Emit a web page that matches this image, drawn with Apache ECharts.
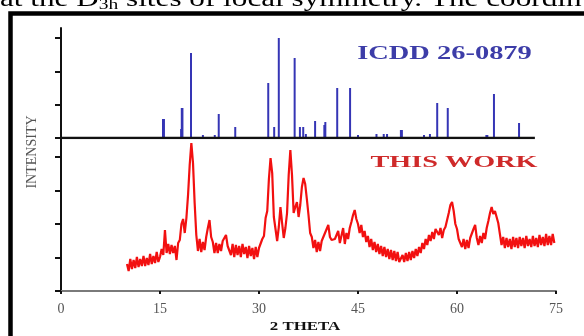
<!DOCTYPE html>
<html>
<head>
<meta charset="utf-8">
<script src="https://cdn.jsdelivr.net/npm/echarts@6/dist/echarts.min.js"></script>
<style>
  html, body { margin: 0; padding: 0; background: #ffffff; }
  #chart { width: 584px; height: 336px; }
</style>
</head>
<body>
<div id="chart"></div>
<script>
// X-ray diffraction: reference stick pattern (ICDD 26-0879) above, measured scan below.

// x axis (2 theta, degrees)
const thetaTicks = [0, 15, 30, 45, 60, 75];

// ICDD 26-0879 reference lines: position (2 theta) and relative intensity
const refTheta = [15.45, 15.6, 18.2, 18.3, 18.4, 19.7, 21.5, 23.3, 23.9, 26.4,
  31.4, 32.3, 33.0, 35.4, 36.2, 36.7, 37.1, 38.5, 39.9, 40.05,
  41.85, 43.8, 45.0, 47.8, 48.9, 49.4, 51.5, 51.65, 55.0, 55.9,
  57.0, 58.6, 64.45, 64.6, 65.6, 69.4];
const refIntensity = [19, 19, 9, 30, 30, 85, 3, 3, 24, 11,
  55, 11, 100, 80, 11, 11, 4, 17, 13, 16,
  50, 50, 3, 4, 4, 4, 8, 8, 3, 4,
  35, 30, 3, 3, 44, 15];
const refBaseline = [0, 71.8];

// measured scan ("this work"): 10.00 to 74.75 deg, 0.25 deg step
const scanStart = 10.0;
const scanStep = 0.25;
const scanCounts = [
  27, 20, 32, 22, 31, 23, 34, 24, 32, 25, 35, 25, 33, 26, 37, 27, 35, 28, 39, 29,
  34, 42, 36, 61, 38, 47, 37, 46, 38, 45, 31, 48, 51, 67, 72, 58, 73, 96, 126, 148,
  128, 88, 56, 40, 52, 39, 49, 41, 54, 63, 71, 54, 49, 38, 48, 38, 47, 40, 50, 52,
  56, 45, 46, 36, 47, 34, 46, 36, 45, 34, 47, 37, 44, 33, 45, 35, 43, 32, 44, 34,
  43, 41, 52, 55, 73, 80, 112, 133, 118, 74, 62, 50, 64, 84, 68, 53, 63, 78, 116, 141,
  116, 78, 84, 89, 74, 86, 104, 113, 107, 92, 76, 58, 54, 43, 51, 39, 49, 40, 50, 51,
  58, 62, 66, 54, 51, 52, 52, 56, 60, 48, 48, 63, 47, 58, 52, 63, 69, 76, 81, 72,
  67, 58, 66, 54, 60, 49, 55, 44, 52, 41, 49, 39, 47, 37, 45, 35, 44, 34, 42, 32,
  41, 31, 40, 30, 39, 29, 27, 36, 29, 38, 30, 39, 31, 40, 33, 42, 35, 44, 38, 48,
  42, 52, 46, 56, 50, 59, 52, 62, 64, 56, 63, 53, 61, 64, 71, 78, 86, 89, 80, 67,
  62, 52, 54, 44, 52, 42, 51, 43, 53, 54, 62, 66, 53, 46, 55, 48, 58, 52, 63, 70,
  78, 84, 77, 80, 79, 68, 57, 46, 54, 43, 53, 44, 52, 42, 54, 44, 53, 43, 54, 45,
  53, 43, 55, 45, 52, 44, 55, 45, 53, 44, 56, 46, 54, 45, 57, 46, 55, 46, 57, 48
];

// y tick positions for the two stacked panels
const refTicks = [0, 33.33, 66.67, 100];
const scanTicks = [0, 33.5, 67, 100.5, 134];

const sticks = refTheta.map((t, i) => [t, refIntensity[i]]);
const baseline = refBaseline.map(t => [t, 0]);
const scan = scanCounts.map((c, i) => [scanStart + i * scanStep, c]);

const serif = '"Liberation Serif", "Times New Roman", serif';

const chart = echarts.init(document.getElementById('chart'), null, { renderer: 'canvas' });

const yAxisCommon = {
  type: 'value',
  min: 0,
  axisLine: { show: true, lineStyle: { color: '#111', width: 2 } },
  axisLabel: { show: false },
  splitLine: { show: false }
};

chart.setOption({
  animation: false,
  backgroundColor: '#ffffff',
  grid: [
    { left: 61, right: 28, top: 28, height: 110 },
    { left: 61, right: 28, top: 138, height: 153 }
  ],
  xAxis: [
    {
      gridIndex: 0, type: 'value', min: 0, max: 75, show: false
    },
    {
      gridIndex: 1, type: 'value', min: 0, max: 75, interval: 15,
      axisLine: { show: true, onZero: false, lineStyle: { color: '#7a7a7a', width: 2 } },
      axisTick: { show: true, inside: false, length: 3, lineStyle: { color: '#111', width: 2 } },
      axisLabel: {
        show: true, margin: 11, color: '#555',
        fontFamily: serif, fontSize: 14,
        customValues: thetaTicks
      },
      splitLine: { show: false }
    }
  ],
  yAxis: [
    Object.assign({}, yAxisCommon, {
      gridIndex: 0, max: 110,
      axisTick: { show: true, length: 6, lineStyle: { color: '#111', width: 2 }, customValues: refTicks }
    }),
    Object.assign({}, yAxisCommon, {
      gridIndex: 1, max: 153,
      axisTick: { show: true, length: 6, lineStyle: { color: '#111', width: 2 }, customValues: scanTicks }
    })
  ],
  series: [
    {
      name: 'ICDD 26-0879',
      type: 'bar',
      xAxisIndex: 0, yAxisIndex: 0,
      barWidth: 2,
      itemStyle: { color: '#3535b5' },
      data: sticks,
      z: 2
    },
    {
      name: 'baseline',
      type: 'line',
      xAxisIndex: 0, yAxisIndex: 0,
      showSymbol: false,
      lineStyle: { color: '#111', width: 2.5 },
      data: baseline,
      z: 3
    },
    {
      name: 'THIS WORK',
      type: 'line',
      xAxisIndex: 1, yAxisIndex: 1,
      showSymbol: false,
      lineStyle: { color: '#f21010', width: 2.2 },
      data: scan,
      z: 2
    }
  ],
  graphic: [
    {
      type: 'rect',
      shape: { x: 10.5, y: 13.5, width: 640, height: 400 },
      style: { fill: 'none', stroke: '#000', lineWidth: 4.5 },
      silent: true
    },
    {
      type: 'text', x: 0, y: 0, scaleX: 1.3,
      style: {
        text: '{t|at the D}{s|3h}{t| sites of local symmetry. The coordin}',
        fill: '#000', verticalAlign: 'middle', align: 'left',
        rich: {
          t: { fontFamily: serif, fontSize: 24, fill: '#000' },
          s: { fontFamily: serif, fontSize: 15, fill: '#000', padding: [10, 0, 0, 0] }
        }
      }
    },
    {
      type: 'text', x: 444.5, y: 54, scaleX: 1.58,
      style: {
        text: 'ICDD 26-0879', fill: '#3d3da8',
        font: 'bold 18px ' + serif, align: 'center', verticalAlign: 'middle'
      }
    },
    {
      type: 'text', x: 454, y: 163, scaleX: 1.66,
      style: {
        text: 'THIS WORK', fill: '#cf2a2a',
        font: 'bold 17px ' + serif, align: 'center', verticalAlign: 'middle'
      }
    },
    {
      type: 'text', x: 32, y: 152, rotation: Math.PI / 2,
      style: {
        text: 'INTENSITY', fill: '#555',
        font: '14px ' + serif, align: 'center', verticalAlign: 'middle'
      }
    },
    {
      type: 'text', x: 305, y: 327, scaleX: 1.3,
      style: {
        text: '2 THETA', fill: '#111',
        font: 'bold 13px ' + serif, align: 'center', verticalAlign: 'middle'
      }
    }
  ]
});
</script>
</body>
</html>
